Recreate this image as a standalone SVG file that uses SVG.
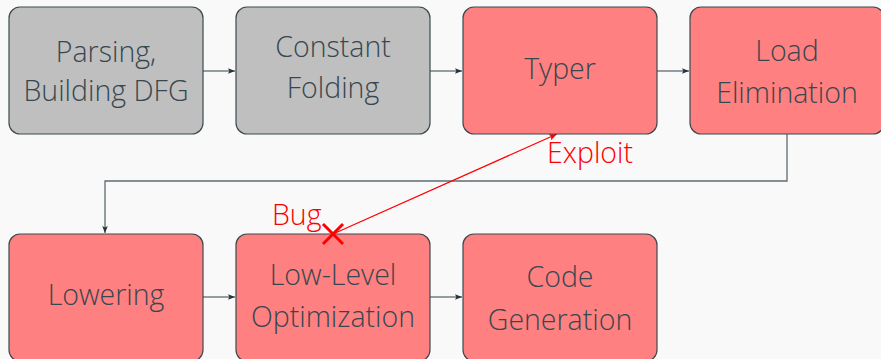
<svg xmlns="http://www.w3.org/2000/svg" width="881" height="359" viewBox="0 0 881 359">
<defs>
<style>
.box{stroke:#3c4a50;stroke-width:1.2}
.g{fill:#bfbfbf}
.r{fill:#ff8080}
.t{font-family:"Open Sans","Noto Sans",sans-serif;font-weight:300;font-size:28.5px;fill:#37474f;text-anchor:middle}
.lbl{font-family:"Open Sans","Noto Sans",sans-serif;font-weight:300;font-size:28.5px;fill:#ff0000}
.c{fill:none;stroke:#5f6b70;stroke-width:1.3}
</style>
<marker id="ah" viewBox="0 0 10 10" refX="10" refY="5" markerWidth="7" markerHeight="7" orient="auto" markerUnits="userSpaceOnUse"><path d="M0,1 L10,5 L0,9 L2,5 Z" fill="#263238"/></marker>
<marker id="ahr" viewBox="0 0 10 10" refX="10" refY="5" markerWidth="8" markerHeight="8" orient="auto" markerUnits="userSpaceOnUse"><path d="M0,1 L10,5 L0,9 L2,5 Z" fill="#ff0000"/></marker>
</defs>
<rect width="881" height="359" fill="#f9f9f9"/>
<g id="connectors">
<line class="c" x1="203" y1="71" x2="235" y2="71" marker-end="url(#ah)"/>
<line class="c" x1="430" y1="71" x2="462" y2="71" marker-end="url(#ah)"/>
<line class="c" x1="657" y1="71" x2="689" y2="71" marker-end="url(#ah)"/>
<path class="c" d="M787,134 V181 H105 V233" marker-end="url(#ah)"/>
<line class="c" x1="203" y1="297" x2="235" y2="297" marker-end="url(#ah)"/>
<line class="c" x1="430" y1="297" x2="462" y2="297" marker-end="url(#ah)"/>
<line x1="333" y1="234" x2="557" y2="134" stroke="#ff0000" stroke-width="1.2" marker-end="url(#ahr)"/>
</g>
<g id="parsing"><rect class="box g" x="9" y="7" width="194" height="127" rx="11"/><text class="t" x="106" y="62">Parsing,</text><text class="t" x="106" y="101">Building DFG</text></g>
<g id="folding"><rect class="box g" x="236" y="7" width="194" height="127" rx="11"/><text class="t" x="333" y="57">Constant</text><text class="t" x="333" y="98">Folding</text></g>
<g id="typer"><rect class="box r" x="463" y="7" width="194" height="127" rx="11"/><text class="t" x="560" y="79">Typer</text></g>
<g id="loadelim"><rect class="box r" x="690" y="7" width="194" height="127" rx="11"/><text class="t" x="787" y="61">Load</text><text class="t" x="787" y="103">Elimination</text></g>
<g id="lowering"><rect class="box r" x="9" y="234" width="194" height="127" rx="11"/><text class="t" x="106" y="305">Lowering</text></g>
<g id="lowlevel"><rect class="box r" x="236" y="234" width="194" height="127" rx="11"/><text class="t" x="333" y="285">Low-Level</text><text class="t" x="333" y="327">Optimization</text></g>
<g id="codegen"><rect class="box r" x="463" y="234" width="194" height="127" rx="11"/><text class="t" x="560" y="287">Code</text><text class="t" x="560" y="330">Generation</text></g>
<g id="bug"><path d="M323,224 L343,244 M343,224 L323,244" stroke="#ff0000" stroke-width="3" fill="none"/><text class="lbl" x="272" y="225">Bug</text></g>
<g id="exploit"><text class="lbl" x="547" y="163">Exploit</text></g>
</svg>
